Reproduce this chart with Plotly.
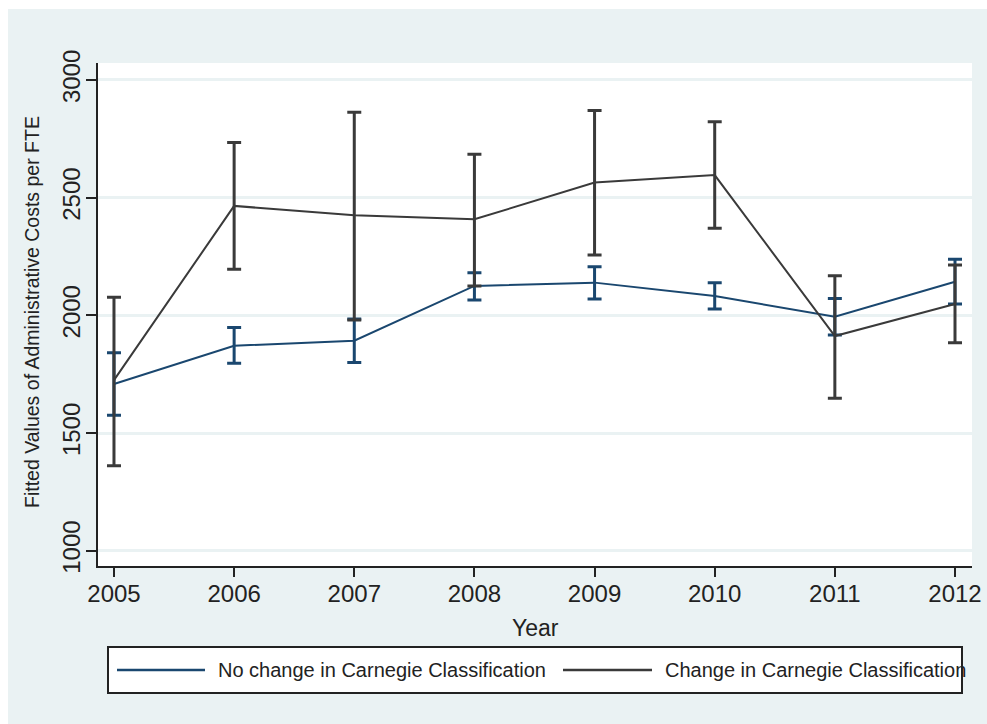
import plotly.graph_objects as go

years = [2005, 2006, 2007, 2008, 2009, 2010, 2011, 2012]

# No change in Carnegie Classification
nochange_fit = [1708, 1871, 1892, 2125, 2139, 2082, 1994, 2143]
nochange_hi = [1841, 1948, 1984, 2181, 2207, 2139, 2072, 2238]
nochange_lo = [1575, 1796, 1800, 2065, 2069, 2027, 1916, 2048]

# Change in Carnegie Classification
change_fit = [1725, 2465, 2425, 2408, 2564, 2596, 1912, 2048]
change_hi = [2077, 2734, 2863, 2684, 2870, 2823, 2168, 2214]
change_lo = [1361, 2196, 1980, 2125, 2256, 2370, 1648, 1884]

y_ticks = [1000, 1500, 2000, 2500, 3000]
series_names = ["No change in Carnegie Classification", "Change in Carnegie Classification"]

BLUE = "#1a476f"
DARK = "#3a3a3a"
BG = "#eaf2f3"
FONT = "Liberation Sans, Arial, sans-serif"

fig = go.Figure()


def add_series(fit, hi, lo, color, name):
    fig.add_trace(go.Scatter(
        x=years, y=fit, mode="lines", name=name,
        line=dict(color=color, width=2),
        error_y=dict(type="data", symmetric=False,
                     array=[h - f for h, f in zip(hi, fit)],
                     arrayminus=[f - l for f, l in zip(fit, lo)],
                     color=color, thickness=3, width=7),
        showlegend=False,
    ))


add_series(nochange_fit, nochange_hi, nochange_lo, BLUE, series_names[0])
add_series(change_fit, change_hi, change_lo, DARK, series_names[1])

# plot-area geometry (pixels) used to place the hand-drawn legend
L, R, T, B = 98, 15, 63, 158
W, H = 987 - L - R, 724 - T - B


def px(x):
    return (x - L) / W


def py(y):
    return (724 - B - y) / H


shapes = [
    # white margins of the graph region
    dict(type="rect", xref="paper", yref="paper", x0=px(0), x1=px(987), y0=py(9), y1=py(0),
         fillcolor="white", line=dict(width=0), layer="below"),
    dict(type="rect", xref="paper", yref="paper", x0=px(0), x1=px(8), y0=py(724), y1=py(0),
         fillcolor="white", line=dict(width=0), layer="below"),
    # legend box
    dict(type="rect", xref="paper", yref="paper", x0=px(108), x1=px(962), y0=py(693), y1=py(647),
         fillcolor="white", line=dict(color="#222222", width=2), layer="above"),
    dict(type="line", xref="paper", yref="paper", x0=px(117), x1=px(205), y0=py(670), y1=py(670),
         line=dict(color=BLUE, width=2.5)),
    dict(type="line", xref="paper", yref="paper", x0=px(563), x1=px(652), y0=py(670), y1=py(670),
         line=dict(color=DARK, width=2.5)),
]

annotations = [
    dict(text=series_names[0], xref="paper", yref="paper", x=px(216), y=py(670),
         xanchor="left", yanchor="middle", showarrow=False,
         font=dict(family=FONT, size=20, color="#222222")),
    dict(text=series_names[1], xref="paper", yref="paper", x=px(663), y=py(670),
         xanchor="left", yanchor="middle", showarrow=False,
         font=dict(family=FONT, size=20, color="#222222")),
    dict(text="Fitted Values of Administrative Costs per FTE", xref="paper", yref="paper",
         x=px(32), y=py(312), xanchor="center", yanchor="middle", textangle=-90, showarrow=False,
         font=dict(family=FONT, size=19.5, color="#222222")),
    dict(text="Year", xref="paper", yref="paper", x=px(535), y=py(628),
         xanchor="center", yanchor="middle", showarrow=False,
         font=dict(family=FONT, size=23, color="#222222")),
]

fig.update_layout(
    width=987, height=724,
    margin=dict(l=L, r=R, t=T, b=B),
    paper_bgcolor=BG, plot_bgcolor="white",
    font=dict(family=FONT, color="#222222"),
    shapes=shapes, annotations=annotations,
    showlegend=False,
    xaxis=dict(range=[2004.867, 2012.1415], tickmode="array", tickvals=years,
               ticktext=[str(y) for y in years], automargin=False,
               showgrid=False, zeroline=False,
               showline=True, linecolor="#222222", linewidth=2,
               ticks="outside", ticklen=9, tickwidth=1.5, tickcolor="#222222",
               ticklabelstandoff=-4,
               tickfont=dict(family=FONT, size=24, color="#222222")),
    yaxis=dict(range=[935, 3072.2], tickmode="array", tickvals=y_ticks,
               ticktext=[str(v) for v in y_ticks], tickangle=-90, automargin=False,
               showgrid=True, gridcolor=BG, gridwidth=2.5, zeroline=False,
               showline=True, linecolor="#222222", linewidth=2,
               ticks="outside", ticklen=10, tickwidth=1.5, tickcolor="#222222",
               ticklabelstandoff=-4,
               tickfont=dict(family=FONT, size=24, color="#222222")),
)

fig.write_html("out.html")
